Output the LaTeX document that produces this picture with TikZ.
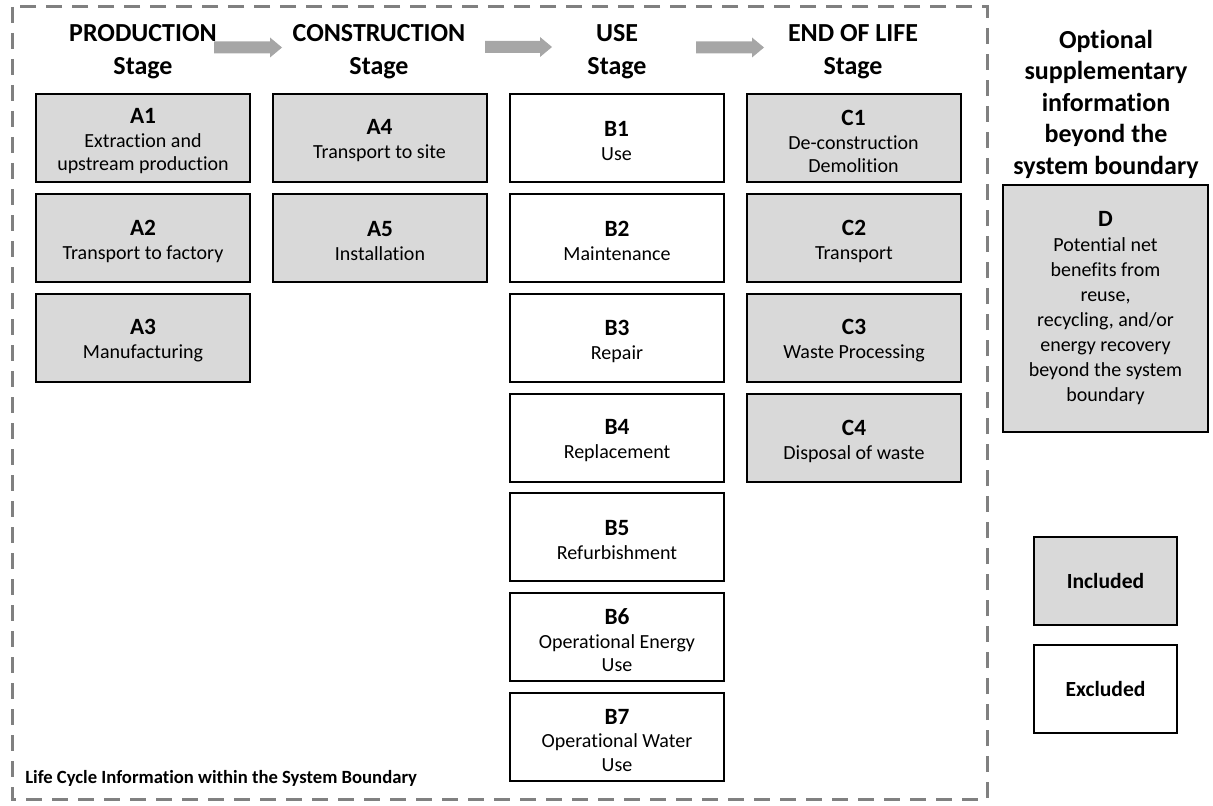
\documentclass[tikz,border=0pt]{standalone}
\usepackage{fontspec}
\setmainfont{Carlito}[Ligatures=NoCommon]
\definecolor{boxgray}{HTML}{D9D9D9}
\definecolor{dashgray}{HTML}{808080}
\definecolor{arrowgray}{HTML}{A6A6A6}
\newcommand\bodyfnt{\fontsize{15pt}{17.25pt}\selectfont}
\newcommand\headfnt{\fontsize{19.5pt}{24.75pt}\selectfont\bfseries}
\newcommand\optfnt{\fontsize{19.5pt}{23.6pt}\selectfont\bfseries}
\newcommand\lab[1]{{\fontsize{17.5pt}{17.25pt}\selectfont\bfseries #1}}
\tikzset{
  stagebox/.style={draw=black, line width=1.5pt, minimum width=160.5pt, minimum height=66pt,
    inner sep=0pt},
  incl/.style={stagebox, fill=boxgray},
  excl/.style={stagebox, fill=white},
  boxtext/.style={align=center, font=\bodyfnt, inner sep=0pt},
  stagehead/.style={align=center, font=\headfnt, inner sep=0pt},
  flowarrow/.style={fill=arrowgray, draw=none},
  boundary/.style={draw=dashgray, line width=2.25pt, dash pattern=on 12pt off 7.5pt},
}
\newcommand\stagebox[5]{% style, name, position, label, text
  \node[#1] (#2) at (#3) {};
  \node[boxtext] (#2t) at ([yshift=-2.25pt]#2.center) {\lab{#4}\\[0.75pt]#5};
}
\begin{document}
\begin{tikzpicture}[x=0.75pt, y=-0.75pt]
\useasboundingbox (0,0) rectangle (1213,806);
% system boundary
\draw[boundary] (12,7) rectangle (987,799);
% headers
\node[stagehead] (hP) at (143,51.5) {PRODUCTION\\Stage};
\node[stagehead] (hC) at (379,51.5) {CONSTRUCTION\\Stage};
\node[stagehead] (hU) at (617,51.5) {USE\\Stage};
\node[stagehead] (hE) at (853,51.5) {END OF LIFE\\Stage};
\node[align=center, font=\optfnt, inner sep=0pt] (hO) at (1106,104)
  {Optional\\supplementary\\information\\beyond the\\system boundary};
% arrows between stages
\coordinate (ar1) at (214,47.5);
\coordinate (ar2) at (485,47);
\coordinate (ar3) at (696,47.5);
\fill[flowarrow] (ar1) ++(0,-6) -- ++(56,0) -- ++(0,-4) -- ++(12,10) -- ++(-12,10) -- ++(0,-4) -- ++(-56,0) -- cycle;
\fill[flowarrow] (ar2) ++(0,-6) -- ++(55,0) -- ++(0,-4) -- ++(12,10) -- ++(-12,10) -- ++(0,-4) -- ++(-55,0) -- cycle;
\fill[flowarrow] (ar3) ++(0,-6) -- ++(56,0) -- ++(0,-4) -- ++(12,10) -- ++(-12,10) -- ++(0,-4) -- ++(-56,0) -- cycle;
% production
\stagebox{incl}{A1}{143,138}{A1}{Extraction and\\upstream production}
\stagebox{incl}{A2}{143,238}{A2}{Transport to factory}
\stagebox{incl}{A3}{143,338}{A3}{Manufacturing}
% construction
\stagebox{incl}{A4}{379.5,138}{A4}{Transport to site}
\stagebox{incl}{A5}{380,238}{A5}{Installation}
% use
\stagebox{excl}{B1}{616.5,138}{B1}{Use}
\stagebox{excl}{B2}{617,238}{B2}{Maintenance}
\stagebox{excl}{B3}{617,338}{B3}{Repair}
\stagebox{excl}{B4}{617,438}{B4}{Replacement}
\stagebox{excl}{B5}{617,537}{B5}{Refurbishment}
\stagebox{excl}{B6}{617,637}{B6}{Operational Energy\\Use}
\stagebox{excl}{B7}{617,737}{B7}{Operational Water\\Use}
% end of life
\stagebox{incl}{C1}{853.5,138}{C1}{De-construction\\Demolition}
\stagebox{incl}{C2}{854,238}{C2}{Transport}
\stagebox{incl}{C3}{854,338}{C3}{Waste Processing}
\stagebox{incl}{C4}{854,438}{C4}{Disposal of waste}
% module D
\node[incl, minimum width=153.75pt, minimum height=185.25pt, align=center,
  font=\fontsize{15pt}{18.75pt}\selectfont] (D) at (1105.5,308.5)
  {\lab{D}\\Potential net\\benefits from\\reuse,\\recycling, and/or\\energy recovery\\beyond the system\\boundary};
% legend
\node[incl, minimum width=107.25pt, font=\fontsize{16.2pt}{18pt}\selectfont\bfseries] (inc) at (1105.5,581) {Included};
\node[excl, minimum width=107.25pt, font=\fontsize{16.2pt}{18pt}\selectfont\bfseries] (exc) at (1105.5,688.5) {Excluded};
% boundary label
\node[anchor=west, inner sep=0pt, font=\fontsize{14pt}{17pt}\selectfont\bfseries] (lbl) at (25,778)
  {Life Cycle Information within the System Boundary};
\end{tikzpicture}
\end{document}
